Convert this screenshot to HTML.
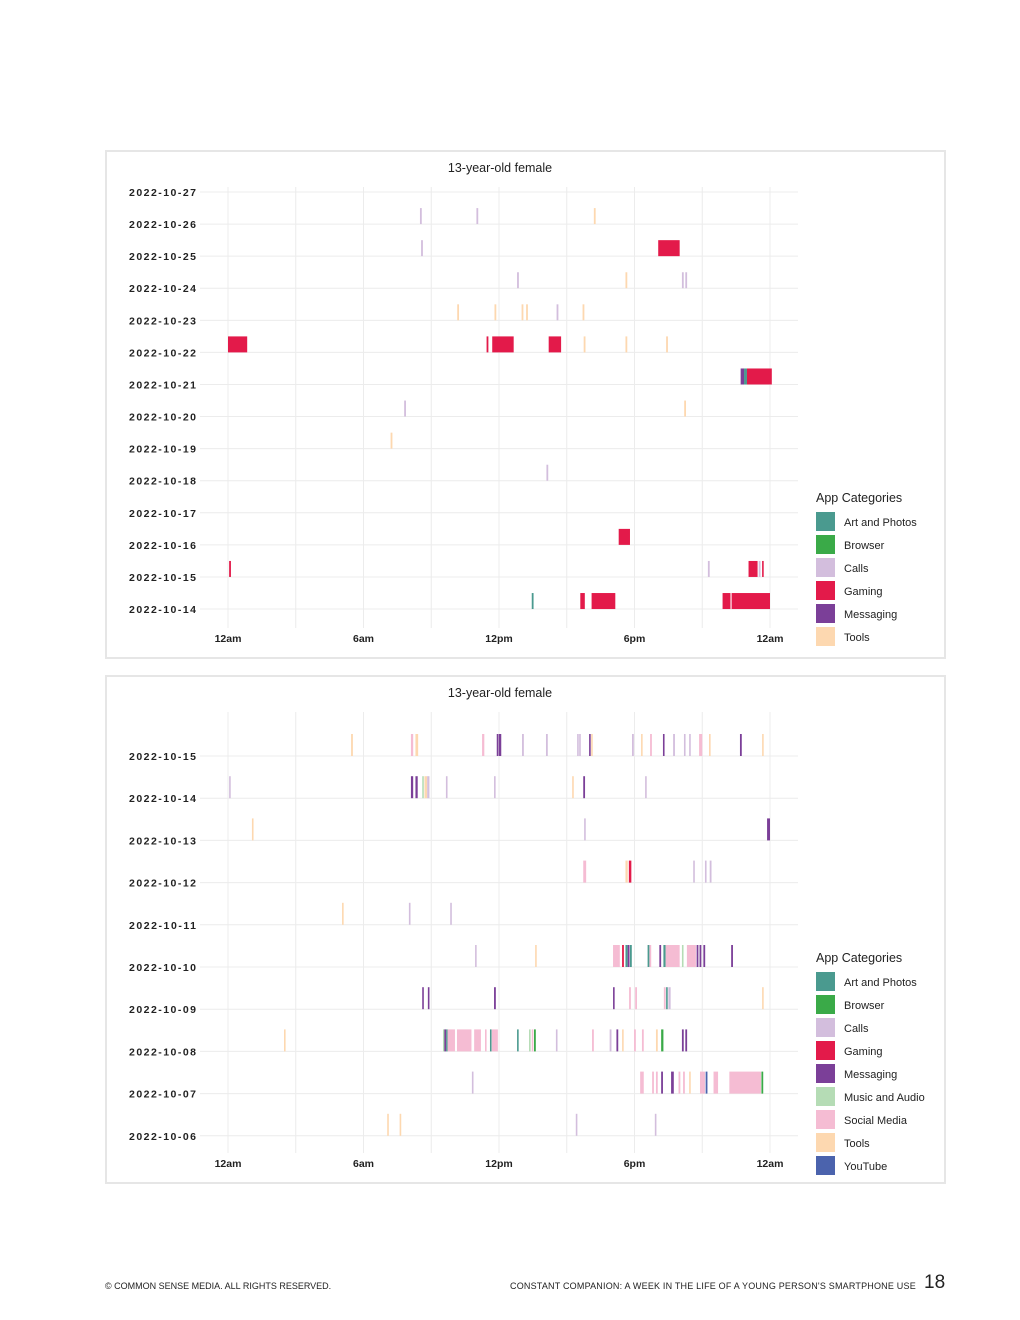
<!DOCTYPE html>
<html><head><meta charset="utf-8"><style>
body{margin:0;background:#fff;font-family:"Liberation Sans",sans-serif;}
.page{position:relative;width:1020px;height:1320px;}
.panel{position:absolute;left:105px;width:841px;border:2px solid #e6e6e6;box-sizing:border-box;}
.foot{position:absolute;top:1281px;font-size:9px;color:#222;}
</style></head><body><div class="page">
<div class="panel" style="top:150px;height:509px"></div>
<div class="panel" style="top:675px;height:509px"></div>
<svg id="chart" width="1020" height="1320" style="position:absolute;left:0;top:0"></svg>
<div class="foot" style="left:105px">© COMMON SENSE MEDIA. ALL RIGHTS RESERVED.</div>
<div class="foot" style="left:510px;letter-spacing:0.2px">CONSTANT COMPANION: A WEEK IN THE LIFE OF A YOUNG PERSON'S SMARTPHONE USE</div>
<div style="position:absolute;left:924px;top:1272px;font-size:19px;color:#222">18</div>
</div>
<script>
const catNames=["Art and Photos","Browser","Calls","Gaming","Messaging","Music and Audio","Social Media","Tools","YouTube"];
const catColors=["#4a9a8f","#3aaa48","#d3bedd","#e31a4a","#7b3f98","#b5dcb5","#f5bcd3","#fdd8b0","#4b63ad"];
const xTicks=["12am","6am","12pm","6pm","12am"];
const topDates=["2022-10-27","2022-10-26","2022-10-25","2022-10-24","2022-10-23","2022-10-22","2022-10-21","2022-10-20","2022-10-19","2022-10-18","2022-10-17","2022-10-16","2022-10-15","2022-10-14"];
const topCats=[0,1,2,3,4,7];
// [dateIndex, startHour, endHour, categoryIndex]
const topSegs=[
[1,8.5,8.58,2],[1,11.0,11.08,2],[1,16.2,16.28,7],
[2,8.55,8.63,2],[2,19.05,20.0,3],
[3,12.8,12.88,2],[3,17.6,17.68,7],[3,20.1,20.18,2],[3,20.25,20.33,2],
[4,10.15,10.23,7],[4,11.8,11.88,7],[4,13.0,13.08,7],[4,13.2,13.28,7],[4,14.55,14.63,2],[4,15.7,15.78,7],
[5,0,0.85,3],[5,11.45,11.53,3],[5,11.7,12.65,3],[5,14.2,14.75,3],[5,15.75,15.83,7],[5,17.6,17.68,7],[5,19.4,19.48,7],
[6,22.7,22.85,4],[6,22.85,22.98,0],[6,22.98,24.08,3],
[7,7.8,7.88,2],[7,20.2,20.28,7],
[8,7.2,7.28,7],
[9,14.1,14.18,2],
[11,17.3,17.8,3],
[12,0.05,0.13,3],[12,21.25,21.33,2],[12,23.05,23.45,3],[12,23.5,23.58,2],[12,23.65,23.72,3],
[13,13.45,13.53,0],[13,15.6,15.8,3],[13,16.1,17.15,3],[13,21.9,22.25,3],[13,22.3,24,3]
];
const botDates=["2022-10-15","2022-10-14","2022-10-13","2022-10-12","2022-10-11","2022-10-10","2022-10-09","2022-10-08","2022-10-07","2022-10-06"];
const botCats=[0,1,2,3,4,5,6,7,8];
const botSegs=[
[0,5.45,5.53,7],[0,8.1,8.2,6],[0,8.3,8.42,7],[0,11.25,11.35,6],[0,11.9,11.98,4],[0,12.0,12.1,4],[0,13.02,13.1,2],[0,14.08,14.16,2],[0,15.46,15.52,2],[0,15.55,15.61,2],[0,15.99,16.05,4],[0,16.08,16.14,7],[0,17.89,17.97,2],[0,18.29,18.35,7],[0,18.69,18.77,6],[0,19.26,19.33,4],[0,19.71,19.79,2],[0,20.19,20.25,2],[0,20.42,20.48,2],[0,20.86,21.0,6],[0,21.3,21.36,7],[0,22.67,22.75,4],[0,23.65,23.71,7],
[1,0.05,0.11,2],[1,8.1,8.2,4],[1,8.3,8.4,4],[1,8.6,8.66,5],[1,8.7,8.82,7],[1,8.82,8.92,2],[1,9.65,9.71,2],[1,11.78,11.84,2],[1,15.24,15.3,7],[1,15.73,15.81,4],[1,18.47,18.53,2],
[2,1.06,1.12,7],[2,15.77,15.83,2],[2,23.87,24,4],
[3,15.73,15.86,6],[3,17.6,17.7,7],[3,17.75,17.86,3],[3,20.6,20.66,2],[3,21.12,21.18,2],[3,21.33,21.41,2],
[4,5.05,5.11,7],[4,8.01,8.07,2],[4,9.84,9.9,2],
[5,10.94,11.0,2],[5,13.6,13.66,7],[5,17.05,17.35,6],[5,17.45,17.53,3],[5,17.6,17.7,0],[5,17.7,17.78,4],[5,17.8,17.88,0],[5,18.58,18.66,0],[5,18.66,18.74,6],[5,19.1,19.18,4],[5,19.28,19.38,0],[5,19.38,20.0,6],[5,20.1,20.16,5],[5,20.32,20.72,6],[5,20.75,20.83,4],[5,20.88,20.96,4],[5,21.05,21.13,4],[5,22.28,22.36,4],
[6,8.6,8.66,4],[6,8.85,8.91,4],[6,11.78,11.86,4],[6,17.05,17.11,4],[6,17.76,17.84,6],[6,18.03,18.11,6],[6,19.3,19.38,6],[6,19.4,19.46,0],[6,19.5,19.6,2],[6,23.65,23.71,7],
[7,2.48,2.54,7],[7,9.52,9.58,5],[7,9.58,9.66,4],[7,9.66,9.72,0],[7,9.72,10.05,6],[7,10.14,10.78,6],[7,10.9,11.2,6],[7,11.38,11.44,6],[7,11.6,11.66,0],[7,11.68,11.95,6],[7,12.8,12.86,0],[7,13.33,13.39,5],[7,13.45,13.51,6],[7,13.55,13.63,1],[7,14.52,14.58,2],[7,16.12,16.2,6],[7,16.9,16.98,2],[7,17.2,17.28,4],[7,17.45,17.51,7],[7,17.98,18.06,6],[7,18.33,18.41,6],[7,18.95,19.03,7],[7,19.18,19.28,1],[7,20.1,20.18,4],[7,20.25,20.33,4],
[8,10.8,10.86,2],[8,18.25,18.41,6],[8,18.78,18.86,6],[8,18.95,19.03,6],[8,19.18,19.26,4],[8,19.62,19.74,4],[8,19.95,20.03,6],[8,20.15,20.23,6],[8,20.42,20.48,7],[8,20.9,21.12,6],[8,21.15,21.23,8],[8,21.5,21.7,6],[8,22.2,23.6,6],[8,23.62,23.7,1],
[9,7.05,7.11,7],[9,7.6,7.66,7],[9,15.4,15.46,2],[9,18.9,18.96,2]
];
const svg=document.getElementById('chart');
const NS="http://www.w3.org/2000/svg";
function mk(tag,attrs,parent){const e=document.createElementNS(NS,tag);for(const k in attrs)e.setAttribute(k,attrs[k]);(parent||svg).appendChild(e);return e;}
const xScale=h=>228+h*(542/24);
function drawChart(name,dates,segs,cats,y0,step,barH,gTop,gBot,titleY,legY){
  const g=mk('g',{});
  
  
  const t=mk('text',{x:500,y:titleY,'text-anchor':'middle','font-size':12.5,fill:'#222'},g);t.textContent='13-year-old female';
  
  
  for(let i=0;i<=8;i++){const x=xScale(i*3);mk('line',{x1:x,x2:x,y1:gTop,y2:gBot,stroke:'#ececec','stroke-width':1},g);}
  dates.forEach((d,i)=>{const y=y0+i*step;
    mk('line',{x1:200,x2:798,y1:y,y2:y,stroke:'#ececec','stroke-width':1},g);
    const l=mk('text',{x:129,y:y+4,'font-size':10.5,'font-weight':'bold',fill:'#222',textLength:67,lengthAdjust:'spacing'},g);l.textContent=d;
    
    
  });
  segs.forEach(s=>{const y=y0+s[0]*step;const x1=xScale(s[1]),x2=xScale(s[2]);
    const r=mk('rect',{x:x1,y:y-barH,width:Math.max(1.6,x2-x1),height:barH,fill:catColors[s[3]]},g);
    
    
  });
  xTicks.forEach((tk,i)=>{const l=mk('text',{x:xScale(i*6),y:gBot+14,'text-anchor':'middle','font-size':10.5,'font-weight':'bold',fill:'#222'},g);l.textContent=tk;
    
    });
  const lt=mk('text',{x:816,y:legY,'font-size':12.5,fill:'#222'},g);lt.textContent='App Categories';
  
  
  cats.forEach((c,i)=>{const y=legY+10+i*23;
    const r=mk('rect',{x:816,y:y,width:19,height:19,fill:catColors[c]},g);
    
    
    const l=mk('text',{x:844,y:y+14,'font-size':11,fill:'#222'},g);l.textContent=catNames[c];
    
    
  });
}
drawChart('top-chart',topDates,topSegs,topCats,192,32.08,16,187,628,172,502);
drawChart('bottom-chart',botDates,botSegs,botCats,756,42.2,22,712,1153,697,962);
</script></body></html>
